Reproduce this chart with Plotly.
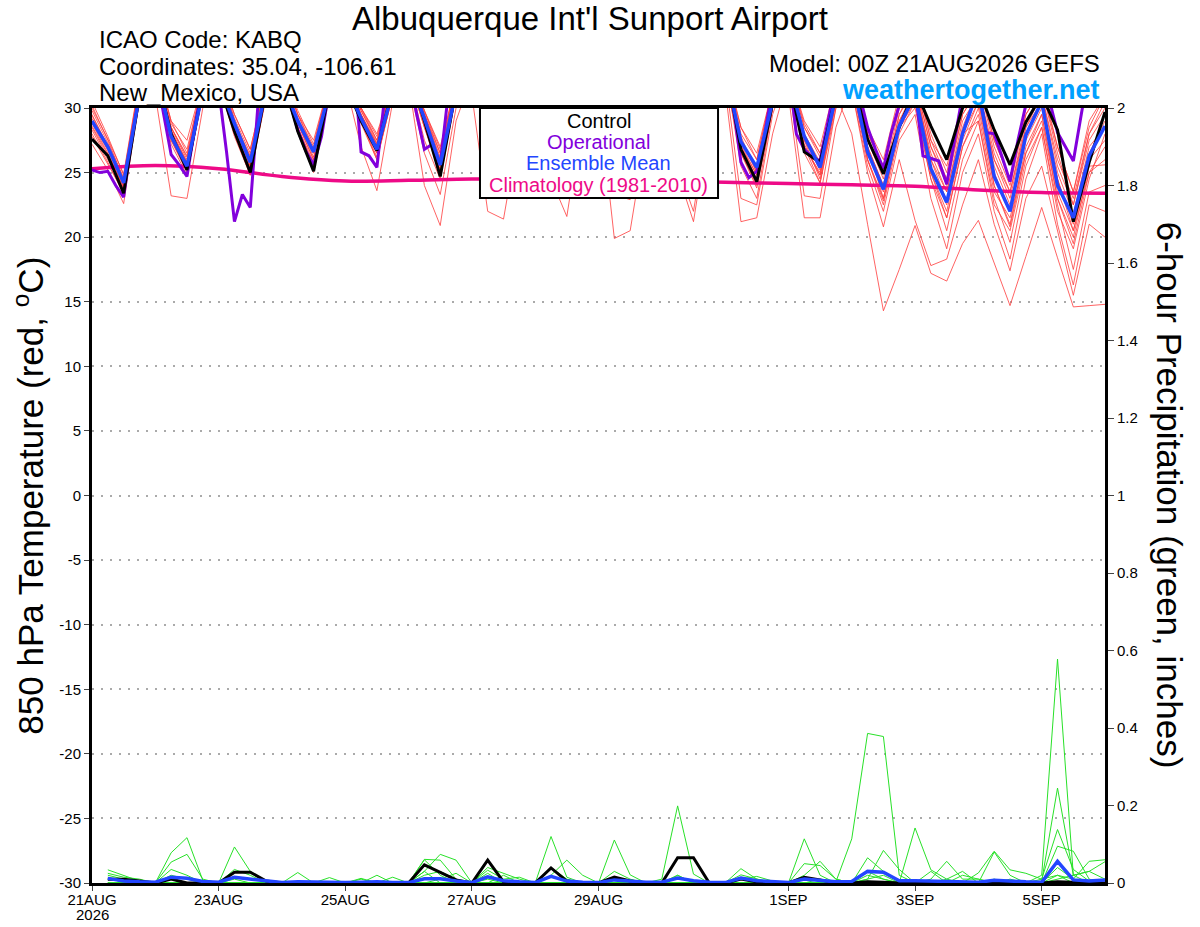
import pandas as pd
import plotly.graph_objects as go

# GEFS 850 hPa temperature + 6h precip, KABQ, run 00Z 21AUG2026
start = pd.Timestamp("2026-08-21 00:00")

hours_6 = list(range(0, 385, 6))      # members, control, mean (temperature)
hours_3 = list(range(0, 385, 3))      # operational run
hours_24 = list(range(0, 385, 24))    # climatology
hours_pcp = list(range(6, 385, 6))    # 6-hour precip accumulations


def to_time(hours):
    return [start + pd.Timedelta(hours=h) for h in hours]


######################### - temperature (C), rows = 00Z, 06Z, 12Z, 18Z per day
control_t = [
    27.6, 26.3, 23.4, 31.0,  33.0, 28.0, 25.2, 31.5,  32.0, 28.2, 25.0, 31.5,  32.5, 28.2, 25.1, 31.5,
    32.0, 29.0, 26.7, 31.5,  33.0, 29.0, 24.7, 31.5,  33.0, 28.5, 25.5, 31.5,  32.5, 28.0, 25.0, 31.0,
    32.5, 28.0, 25.0, 31.0,  32.5, 28.5, 25.5, 31.0,  33.5, 26.8, 24.3, 30.4,  32.5, 26.6, 25.8, 31.0,
    32.5, 27.6, 24.9, 28.5,  31.5, 28.6, 26.0, 30.0,  31.5, 28.3, 25.6, 28.9,  31.0, 28.3, 21.2, 25.8,
    29.7]

mean_t = [
    29.0, 27.0, 24.2, 31.0,  33.0, 27.8, 25.5, 31.3,  32.0, 28.8, 25.8, 31.5,  32.0, 29.0, 26.6, 31.3,
    32.0, 29.2, 26.8, 31.3,  32.5, 29.2, 25.6, 31.3,  32.5, 29.0, 26.0, 31.0,  32.5, 29.0, 26.0, 31.0,
    32.5, 29.0, 26.0, 31.0,  32.5, 29.0, 26.2, 31.0,  33.0, 27.4, 25.4, 30.5,  32.5, 27.8, 25.4, 31.0,
    32.5, 26.6, 23.7, 28.6,  31.0, 25.3, 22.7, 28.0,  31.5, 24.7, 22.0, 27.9,  30.5, 24.0, 21.5, 26.3,
    28.6]

# operational, 3-hourly: rows = 00,03,06,09,12,15,18,21Z
oper_t = [
    25.2, 25.0, 25.1, 24.0, 23.1, 27.5, 31.0, 33.0,
    33.0, 29.8, 26.4, 25.6, 24.7, 28.5, 32.0, 33.0,
    31.5, 26.6, 21.2, 23.3, 22.3, 30.5, 34.0, 34.0,
    32.0, 30.5, 28.3, 26.7, 25.6, 27.8, 31.5, 33.0,
    33.0, 34.0, 26.6, 26.3, 25.4, 31.0, 33.0, 33.0,
    33.0, 29.6, 26.8, 27.2, 25.6, 31.0, 33.0, 33.0,
    33.0, 33.0, 31.0, 26.5, 25.5, 30.0, 33.0, 33.0,
    33.0, 31.0, 28.0, 26.5, 25.5, 28.0, 32.0, 33.0,
    33.0, 31.0, 28.0, 26.5, 25.5, 28.0, 32.0, 33.0,
    33.0, 31.0, 28.0, 26.5, 25.5, 28.0, 32.0, 33.0,
    33.0, 30.3, 25.8, 24.6, 25.1, 28.0, 31.5, 33.0,
    33.0, 28.0, 26.8, 26.2, 25.9, 29.0, 32.0, 33.0,
    33.0, 31.0, 28.5, 26.8, 25.3, 28.1, 30.2, 32.0,
    31.5, 26.3, 26.1, 25.9, 24.1, 27.7, 31.0, 33.0,
    31.5, 28.1, 28.0, 26.2, 24.3, 27.5, 30.3, 33.0,
    33.0, 30.5, 28.1, 27.0, 25.9, 29.5, 33.0, 33.0,
    33.0]

clim_t = [25.3, 25.55, 25.3, 24.7, 24.35, 24.4, 24.5, 24.5, 24.45,
          24.35, 24.25, 24.15, 24.05, 23.95, 23.65, 23.45, 23.4]

members_t = [
    [29.5, 27.0, 24.0, 31.0, 33.0, 28.2, 25.8, 31.5, 32.5, 28.5, 25.5, 31.5, 32.5, 29.0, 26.2, 31.5,
     32.0, 29.5, 27.0, 31.5, 33.0, 29.0, 25.5, 31.0, 32.5, 29.0, 26.0, 31.0, 32.5, 28.5, 25.5, 31.0,
     32.5, 28.5, 25.5, 30.5, 32.0, 25.0, 21.2, 29.0, 33.0, 27.8, 25.0, 31.0, 32.5, 28.0, 25.6, 31.0,
     33.0, 27.0, 24.0, 29.5, 32.0, 26.0, 23.5, 28.5, 31.5, 25.5, 22.5, 28.0, 30.5, 24.5, 21.0, 26.5, 29.0],
    [28.8, 26.5, 23.8, 31.5, 33.0, 27.5, 25.2, 31.0, 32.0, 28.0, 25.0, 31.0, 32.0, 28.5, 25.5, 31.0,
     32.5, 29.0, 26.5, 31.5, 33.0, 29.5, 26.0, 31.5, 31.0, 22.0, 21.4, 28.5, 32.5, 29.0, 26.0, 31.0,
     32.5, 29.0, 26.5, 31.0, 32.5, 29.0, 26.5, 31.0, 32.5, 27.0, 24.5, 30.5, 32.0, 27.2, 24.8, 30.5,
     32.0, 26.0, 22.8, 28.5, 31.0, 25.0, 22.0, 27.5, 30.5, 24.0, 21.0, 27.0, 29.5, 23.5, 20.5, 25.0, 27.0],
    [28.0, 25.8, 23.3, 30.5, 31.0, 23.2, 23.0, 30.0, 32.0, 28.2, 25.3, 31.0, 32.5, 28.8, 26.0, 31.5,
     32.5, 29.5, 27.2, 31.5, 33.0, 29.0, 25.0, 31.0, 32.5, 28.5, 25.5, 31.0, 32.5, 28.5, 25.5, 31.0,
     32.5, 28.5, 25.5, 31.0, 32.5, 28.5, 25.5, 31.0, 33.0, 27.5, 25.5, 31.0, 32.5, 27.0, 25.0, 31.0,
     28.0, 21.0, 14.3, 17.5, 20.9, 17.2, 16.6, 19.5, 21.3, 18.0, 14.7, 18.5, 22.3, 18.4, 14.6, 14.7, 14.8],
    [30.2, 27.5, 24.5, 31.5, 33.0, 28.5, 26.2, 32.0, 33.0, 29.0, 26.0, 31.5, 32.5, 29.2, 26.8, 31.5,
     32.5, 29.8, 27.5, 32.0, 33.0, 29.5, 26.5, 31.5, 33.0, 29.5, 26.5, 31.5, 32.0, 24.5, 21.6, 29.5,
     32.5, 29.0, 26.0, 31.0, 32.5, 29.0, 26.0, 31.0, 33.5, 28.0, 26.0, 31.5, 33.0, 28.5, 26.2, 31.5,
     33.0, 28.0, 25.5, 30.5, 32.5, 27.5, 24.5, 30.0, 32.0, 27.0, 24.0, 29.5, 31.5, 26.5, 22.5, 28.0, 30.5],
    [27.2, 25.2, 22.6, 30.8, 32.5, 28.0, 25.5, 31.5, 32.5, 28.5, 25.5, 31.5, 32.5, 28.5, 25.8, 31.0,
     32.0, 29.0, 26.0, 31.0, 32.5, 28.5, 25.2, 31.0, 32.5, 28.5, 25.5, 31.0, 32.5, 28.5, 25.5, 31.0,
     32.5, 28.5, 25.5, 31.0, 32.5, 28.0, 25.0, 31.0, 32.5, 26.5, 24.0, 30.0, 32.0, 23.2, 23.0, 30.0,
     32.0, 27.0, 23.0, 28.5, 30.5, 24.5, 21.5, 27.0, 30.0, 24.0, 20.8, 26.5, 29.5, 23.0, 19.5, 25.0, 26.0],
    [29.0, 26.8, 24.3, 32.0, 33.5, 28.8, 26.8, 32.0, 33.0, 29.2, 26.5, 32.0, 33.0, 29.5, 27.0, 32.0,
     33.0, 30.0, 27.8, 32.0, 33.0, 29.8, 26.8, 32.0, 33.0, 29.5, 26.5, 32.0, 33.0, 29.0, 26.5, 31.5,
     31.0, 19.9, 20.5, 28.0, 32.5, 29.0, 26.0, 31.0, 33.5, 28.5, 26.5, 31.5, 33.0, 29.0, 27.0, 32.0,
     33.0, 28.5, 26.0, 31.0, 32.5, 28.0, 25.0, 30.5, 32.5, 27.5, 24.5, 30.0, 32.0, 27.0, 23.5, 28.5, 31.0],
    [28.5, 26.2, 23.6, 31.0, 33.0, 27.8, 25.5, 31.5, 32.5, 28.5, 25.8, 31.5, 32.5, 29.0, 26.5, 31.5,
     32.0, 27.0, 23.6, 30.5, 33.0, 29.0, 25.8, 31.5, 32.5, 29.0, 26.0, 31.0, 32.5, 29.0, 26.0, 31.0,
     32.5, 29.0, 26.0, 31.0, 32.5, 29.0, 26.0, 31.0, 33.0, 27.5, 25.2, 31.0, 32.5, 27.5, 25.2, 31.0,
     32.5, 26.5, 23.5, 29.0, 31.5, 26.0, 22.8, 28.0, 29.0, 22.5, 20.5, 26.0, 28.5, 22.0, 19.1, 24.5, 28.0],
    [30.5, 27.8, 24.8, 32.0, 33.5, 29.0, 26.5, 32.0, 33.0, 29.5, 26.8, 32.0, 33.0, 29.8, 27.2, 32.0,
     33.0, 30.0, 27.5, 32.0, 33.0, 29.8, 26.5, 32.0, 33.0, 29.5, 26.8, 32.0, 33.0, 29.5, 26.5, 32.0,
     33.0, 29.5, 26.5, 31.5, 32.5, 25.5, 22.0, 29.5, 33.0, 28.5, 26.0, 31.5, 33.0, 28.8, 26.5, 31.5,
     32.5, 27.5, 24.5, 30.0, 32.0, 27.0, 24.0, 29.5, 31.5, 26.0, 23.5, 28.5, 31.0, 25.5, 22.5, 27.5, 29.5],
    [29.2, 26.9, 24.1, 31.2, 33.0, 28.3, 25.8, 31.5, 32.5, 28.8, 26.0, 31.5, 32.5, 29.0, 26.5, 31.5,
     32.5, 29.5, 27.0, 31.5, 32.0, 24.0, 20.9, 29.0, 32.5, 28.5, 25.5, 31.0, 32.5, 28.5, 25.8, 31.0,
     32.5, 28.5, 25.8, 31.0, 32.5, 28.5, 25.8, 31.0, 33.0, 27.0, 24.8, 30.5, 32.5, 27.5, 24.5, 30.5,
     31.5, 25.0, 20.8, 26.0, 21.3, 17.8, 18.3, 22.5, 26.0, 21.0, 17.4, 23.0, 25.5, 20.5, 15.5, 21.0, 20.0],
    [28.3, 26.0, 23.9, 30.6, 32.5, 27.5, 25.0, 31.0, 32.0, 28.0, 24.8, 31.0, 32.0, 28.5, 25.2, 31.0,
     32.0, 29.0, 26.2, 31.0, 32.5, 28.5, 24.8, 31.0, 32.5, 28.5, 25.5, 31.0, 32.5, 28.5, 25.5, 31.0,
     31.5, 23.3, 22.9, 29.5, 32.5, 28.5, 25.5, 31.0, 32.5, 27.0, 24.5, 30.5, 32.5, 27.0, 24.8, 30.5,
     32.0, 26.0, 22.5, 28.0, 30.5, 25.0, 21.5, 27.0, 29.5, 23.5, 21.5, 26.5, 29.0, 23.0, 20.0, 25.5, 25.6],
    [29.8, 27.3, 24.6, 31.8, 33.0, 28.5, 26.0, 31.8, 33.0, 29.0, 26.2, 31.8, 33.0, 29.5, 26.8, 31.8,
     33.0, 29.8, 27.3, 31.8, 33.0, 29.5, 26.2, 31.8, 33.0, 29.2, 26.2, 31.5, 33.0, 29.2, 26.2, 31.5,
     33.0, 29.2, 26.2, 31.5, 32.5, 29.0, 26.0, 31.0, 31.5, 21.2, 21.5, 28.0, 32.5, 27.8, 25.5, 31.0,
     32.5, 27.0, 24.0, 29.5, 31.5, 26.5, 23.5, 29.0, 31.0, 26.0, 23.0, 28.5, 30.5, 25.0, 21.8, 27.0, 28.5],
    [27.8, 25.6, 23.5, 31.0, 32.5, 27.2, 24.8, 31.0, 32.0, 27.8, 24.8, 30.8, 32.0, 28.2, 25.0, 30.8,
     32.0, 28.8, 26.0, 31.0, 32.0, 26.5, 23.3, 30.0, 32.5, 28.5, 25.2, 31.0, 32.5, 28.2, 25.0, 31.0,
     32.5, 28.2, 25.0, 31.0, 32.5, 28.2, 25.0, 31.0, 32.5, 26.5, 23.8, 30.0, 32.0, 26.5, 24.2, 30.0,
     31.5, 25.5, 22.0, 27.5, 29.5, 23.0, 19.1, 25.0, 28.0, 22.0, 18.3, 24.5, 28.0, 21.0, 16.3, 22.5, 22.0],
    [29.4, 27.1, 24.4, 31.4, 33.0, 28.5, 26.3, 31.5, 32.5, 28.8, 26.3, 31.5, 32.5, 29.0, 26.8, 31.5,
     32.5, 29.5, 27.2, 31.5, 33.0, 29.2, 25.5, 31.5, 32.5, 29.0, 26.0, 31.0, 32.5, 29.0, 26.0, 31.0,
     32.5, 29.0, 26.0, 31.0, 32.5, 29.0, 26.0, 31.0, 33.0, 25.5, 23.0, 30.0, 32.5, 28.0, 25.8, 31.0,
     33.0, 27.5, 25.0, 30.5, 32.0, 27.0, 24.5, 29.5, 31.5, 26.5, 23.5, 29.0, 31.0, 26.0, 23.0, 28.0, 30.0],
    [28.6, 26.4, 24.0, 30.9, 33.0, 28.0, 25.8, 31.5, 32.5, 28.3, 25.5, 31.5, 32.5, 28.8, 26.0, 31.5,
     32.5, 29.2, 26.5, 31.5, 32.5, 27.5, 24.5, 31.0, 32.5, 28.5, 25.5, 31.0, 32.5, 28.5, 25.5, 31.0,
     32.5, 28.5, 25.5, 31.0, 32.5, 28.5, 25.5, 31.0, 33.0, 27.2, 24.8, 30.5, 32.5, 27.0, 24.2, 30.5,
     32.0, 26.0, 23.0, 28.5, 30.0, 24.5, 20.5, 26.0, 29.0, 23.0, 19.6, 25.5, 28.5, 22.5, 17.5, 23.5, 24.0],
    [30.0, 27.6, 24.9, 32.2, 33.5, 29.0, 27.5, 32.0, 33.0, 29.5, 26.8, 32.0, 33.0, 29.5, 27.5, 32.0,
     33.0, 30.0, 28.0, 32.0, 33.0, 29.8, 27.0, 32.0, 33.0, 29.5, 26.5, 31.5, 33.0, 29.5, 26.5, 31.5,
     33.0, 29.5, 26.5, 31.5, 33.0, 29.5, 26.5, 31.5, 32.5, 23.0, 22.5, 29.5, 33.0, 28.5, 26.5, 31.5,
     33.0, 28.0, 25.5, 30.5, 32.5, 27.5, 25.5, 30.0, 32.0, 27.5, 24.5, 29.5, 31.5, 27.0, 23.5, 29.0, 31.0],
    [28.9, 26.7, 23.7, 31.1, 33.0, 28.0, 25.5, 31.5, 32.5, 28.5, 25.2, 31.5, 32.5, 28.5, 25.5, 31.5,
     32.5, 29.0, 26.8, 31.5, 32.5, 28.8, 25.2, 31.0, 32.5, 28.8, 25.8, 31.0, 32.5, 28.8, 25.8, 31.0,
     32.5, 28.8, 25.8, 31.0, 32.5, 28.8, 25.8, 31.0, 33.0, 27.5, 25.0, 30.5, 31.0, 21.5, 21.5, 28.5,
     32.0, 26.5, 23.8, 29.0, 31.0, 25.5, 22.5, 28.0, 30.5, 25.0, 22.0, 27.5, 30.0, 24.5, 20.5, 26.0, 27.5],
]

######################### - precip (inches), rows = 06Z, 12Z, 18Z, next 00Z per day
control_p = [
    0.01, 0.01, 0.005, 0,  0.01, 0, 0, 0,  0.028, 0.028, 0.005, 0,  0, 0, 0, 0,
    0, 0, 0, 0,  0.047, 0.028, 0.008, 0,  0.059, 0.003, 0, 0,  0.039, 0.005, 0, 0,
    0.015, 0.005, 0, 0,  0.065, 0.065, 0, 0,  0.01, 0.003, 0, 0,  0.015, 0.008, 0, 0,
    0.003, 0.002, 0, 0,  0.002, 0.001, 0, 0,  0.001, 0, 0, 0,  0.003, 0.002, 0, 0]

mean_p = [
    0.012, 0.005, 0.003, 0.002,  0.015, 0.012, 0.004, 0.002,  0.015, 0.01, 0.004, 0.001,  0.003, 0.002, 0.001, 0.001,
    0.002, 0.003, 0.001, 0.001,  0.011, 0.011, 0.005, 0.001,  0.016, 0.006, 0.003, 0.001,  0.017, 0.005, 0.002, 0.001,
    0.008, 0.004, 0.002, 0.002,  0.013, 0.006, 0.002, 0.001,  0.013, 0.006, 0.003, 0.001,  0.01, 0.007, 0.003, 0.004,
    0.03, 0.028, 0.006, 0.006,  0.005, 0.004, 0.002, 0.002,  0.007, 0.004, 0.003, 0.002,  0.056, 0.008, 0.005, 0.008]

members_p = [
    [0.034, 0.02, 0.005, 0, 0.078, 0.117, 0.007, 0, 0.01, 0, 0, 0, 0, 0, 0, 0,
     0, 0, 0, 0, 0.061, 0.059, 0.01, 0, 0.01, 0, 0, 0, 0.02, 0.059, 0.02, 0,
     0, 0, 0, 0, 0.02, 0, 0, 0, 0.037, 0.01, 0, 0, 0, 0, 0, 0,
     0.065, 0.03, 0.005, 0, 0, 0, 0, 0, 0.01, 0, 0, 0.005, 0.245, 0.02, 0.03, 0.01],
    [0.025, 0.015, 0.01, 0, 0.054, 0.074, 0.01, 0, 0, 0, 0, 0, 0, 0, 0, 0,
     0.012, 0, 0, 0, 0.03, 0.074, 0.059, 0, 0, 0, 0, 0, 0.04, 0.01, 0, 0,
     0.01, 0, 0, 0, 0, 0, 0, 0, 0.015, 0.005, 0, 0, 0.05, 0.045, 0.01, 0,
     0.01, 0.02, 0, 0.142, 0.034, 0.01, 0, 0, 0, 0, 0, 0, 0.04, 0.01, 0, 0],
    [0.02, 0.01, 0, 0, 0.035, 0.02, 0, 0, 0, 0, 0, 0, 0, 0, 0, 0,
     0, 0.02, 0, 0, 0, 0, 0, 0, 0.04, 0.024, 0.01, 0, 0, 0, 0, 0,
     0.03, 0.01, 0, 0, 0, 0, 0, 0, 0.021, 0.01, 0, 0, 0, 0, 0, 0,
     0.03, 0.01, 0, 0, 0.01, 0.056, 0.01, 0.01, 0, 0, 0, 0, 0.02, 0.01, 0.056, 0.06],
    [0.01, 0.005, 0, 0, 0.02, 0.01, 0, 0, 0.093, 0.03, 0.005, 0, 0, 0, 0, 0,
     0, 0, 0, 0, 0.02, 0.03, 0.01, 0, 0.033, 0.01, 0.015, 0, 0, 0, 0, 0,
     0, 0, 0, 0, 0, 0, 0, 0, 0.01, 0.017, 0.005, 0, 0, 0, 0, 0,
     0.01, 0.084, 0.035, 0, 0, 0, 0, 0, 0, 0.01, 0, 0, 0.01, 0.02, 0.03, 0.055],
    [0, 0, 0, 0, 0, 0, 0, 0, 0.035, 0.02, 0, 0, 0, 0, 0, 0,
     0, 0, 0, 0, 0.06, 0.02, 0, 0, 0, 0.02, 0, 0, 0, 0, 0, 0,
     0, 0, 0, 0.01, 0.199, 0.023, 0, 0, 0, 0, 0, 0, 0, 0.01, 0, 0,
     0, 0, 0, 0, 0.03, 0, 0, 0, 0, 0, 0, 0.01, 0.138, 0.035, 0.005, 0],
    [0, 0, 0, 0, 0, 0, 0, 0, 0, 0, 0, 0, 0.027, 0, 0, 0,
     0, 0, 0, 0, 0, 0.01, 0.025, 0, 0, 0, 0, 0, 0.12, 0.015, 0, 0,
     0, 0, 0, 0, 0, 0, 0, 0, 0, 0, 0, 0, 0.114, 0.02, 0, 0,
     0.005, 0, 0, 0, 0, 0, 0.02, 0.01, 0, 0, 0, 0, 0.095, 0.082, 0.01, 0],
    [0.015, 0, 0, 0, 0, 0, 0, 0, 0, 0, 0, 0, 0, 0, 0.014, 0,
     0, 0, 0, 0, 0, 0, 0, 0, 0.025, 0, 0, 0, 0, 0, 0, 0,
     0, 0, 0, 0, 0, 0, 0, 0, 0, 0, 0, 0, 0.02, 0.056, 0.01, 0,
     0, 0, 0, 0, 0, 0, 0, 0.026, 0.082, 0.034, 0.025, 0.01, 0.02, 0, 0, 0.01],
    [0, 0, 0, 0, 0, 0, 0, 0, 0, 0, 0, 0, 0, 0, 0, 0,
     0, 0, 0, 0, 0.03, 0, 0, 0, 0, 0, 0, 0, 0, 0, 0, 0,
     0.111, 0.021, 0, 0, 0, 0, 0, 0, 0, 0, 0, 0, 0, 0, 0, 0,
     0.02, 0.01, 0, 0, 0, 0, 0, 0, 0, 0, 0, 0.02, 0.578, 0.02, 0, 0],
    [0, 0, 0, 0, 0, 0, 0, 0, 0, 0, 0, 0, 0, 0, 0, 0,
     0, 0, 0, 0, 0, 0, 0, 0, 0, 0, 0, 0, 0, 0, 0, 0,
     0, 0, 0, 0, 0, 0, 0, 0, 0, 0, 0, 0, 0, 0, 0.003, 0.114,
     0.386, 0.378, 0.02, 0, 0, 0, 0, 0, 0, 0, 0, 0, 0, 0, 0, 0],
    [0, 0, 0, 0, 0, 0, 0, 0, 0, 0, 0, 0, 0, 0, 0, 0,
     0.01, 0, 0.015, 0, 0, 0, 0, 0, 0, 0, 0, 0, 0, 0, 0, 0,
     0, 0, 0, 0, 0.02, 0, 0, 0, 0, 0, 0, 0, 0, 0, 0, 0,
     0, 0, 0, 0, 0, 0.01, 0.03, 0, 0.08, 0.02, 0, 0, 0, 0, 0, 0],
]

# axis ticks
temp_ticks = [30, 25, 20, 15, 10, 5, 0, -5, -10, -15, -20, -25, -30]
pcp_ticks = [0, 0.2, 0.4, 0.6, 0.8, 1, 1.2, 1.4, 1.6, 1.8, 2]
pcp_tick_text = ["0", "0.2", "0.4", "0.6", "0.8", "1", "1.2", "1.4", "1.6", "1.8", "2"]
date_ticks = ["2026-08-21", "2026-08-23", "2026-08-25", "2026-08-27", "2026-08-29",
              "2026-09-01", "2026-09-03", "2026-09-05"]
date_tick_text = ["21AUG", "23AUG", "25AUG", "27AUG", "29AUG", "1SEP", "3SEP", "5SEP"]

RED = "rgba(255,60,60,0.8)"
GREEN = "rgb(40,225,40)"
BLUE = "rgb(35,70,255)"
PURPLE = "rgb(130,0,220)"
PINK = "rgb(238,10,135)"
FONT = "Liberation Sans, Arial, sans-serif"

t6 = to_time(hours_6)
tp = to_time(hours_pcp)

fig = go.Figure()

for m in members_t:
    fig.add_trace(go.Scatter(x=t6, y=m, mode="lines", line=dict(color=RED, width=1)))
for m in members_p:
    fig.add_trace(go.Scatter(x=tp, y=m, mode="lines", line=dict(color=GREEN, width=1), yaxis="y2"))

fig.add_trace(go.Scatter(x=tp, y=control_p, mode="lines", line=dict(color="black", width=3), yaxis="y2"))
fig.add_trace(go.Scatter(x=tp, y=mean_p, mode="lines", line=dict(color=BLUE, width=3.5), yaxis="y2"))

fig.add_trace(go.Scatter(x=to_time(hours_24), y=clim_t, mode="lines",
                         line=dict(color=PINK, width=3.5, shape="spline")))
fig.add_trace(go.Scatter(x=to_time(hours_3), y=oper_t, mode="lines", line=dict(color=PURPLE, width=3)))
fig.add_trace(go.Scatter(x=t6, y=control_t, mode="lines", line=dict(color="black", width=3)))
fig.add_trace(go.Scatter(x=t6, y=mean_t, mode="lines", line=dict(color=BLUE, width=3.5)))


def note(text, x, y, size, color="black", xanchor="center", angle=0):
    fig.add_annotation(text=text, xref="paper", yref="paper", x=x, y=y,
                       xanchor=xanchor, yanchor="middle", textangle=angle, showarrow=False,
                       font=dict(size=size, color=color, family=FONT))


# legend box (text only, like the original)
fig.add_shape(type="rect", xref="paper", yref="paper", x0=0.383, x1=0.618, y0=0.884, y1=1.0,
              line=dict(color="black", width=2), fillcolor="white", layer="above")
legend_items = [("Control", "black"), ("Operational", PURPLE),
                ("Ensemble Mean", BLUE), ("Climatology (1981-2010)", PINK)]
legend_y = [0.983, 0.956, 0.929, 0.901]
for (txt, col), ly in zip(legend_items, legend_y):
    note(txt, 0.5, ly, 20, col)

# header text
note("Albuquerque Int'l Sunport Airport", 0.492, 1.116, 33)
for txt, hy in zip(["ICAO Code: KABQ", "Coordinates: 35.04, -106.61", "New_Mexico, USA"],
                   [1.088, 1.053, 1.020]):
    note(txt, 0.005, hy, 24, xanchor="left")
note("Model: 00Z 21AUG2026 GEFS", 0.997, 1.057, 24, xanchor="right")
note("<b>weathertogether.net</b>", 0.997, 1.023, 27, "rgb(0,160,255)", xanchor="right")
note("2026", 0.0, -0.041, 15)

# axis titles
note("850 hPa Temperature (red, <sup>o</sup>C)", -0.063, 0.5, 35, angle=-90)
note("6-hour Precipitation (green, inches)", 1.064, 0.5, 35, angle=90)

fig.update_layout(
    width=1200, height=927,
    margin=dict(l=92, r=95, t=108, b=44, autoexpand=False),
    paper_bgcolor="white", plot_bgcolor="white",
    showlegend=False,
    font=dict(family=FONT, size=15, color="black"),
    xaxis=dict(
        range=[start, start + pd.Timedelta(hours=384)],
        tickvals=date_ticks, ticktext=date_tick_text,
        ticks="outside", ticklen=5, tickwidth=1, automargin=False,
        ticklabelstandoff=-4,
        showline=True, linecolor="black", linewidth=3, mirror=True,
        showgrid=False, zeroline=False,
    ),
    yaxis=dict(
        range=[-30, 30], tickvals=temp_ticks, ticktext=[str(v) for v in temp_ticks],
        ticks="outside", ticklen=5, tickwidth=1, automargin=False,
        showline=True, linecolor="black", linewidth=3,
        showgrid=True, gridcolor="#aaaaaa", griddash="2px,7px", gridwidth=2,
        zeroline=False,
    ),
    yaxis2=dict(
        range=[0, 2], overlaying="y", side="right",
        tickvals=pcp_ticks, ticktext=pcp_tick_text,
        ticks="outside", ticklen=6, tickwidth=1, automargin=False,
        showline=True, linecolor="black", linewidth=3,
        showgrid=False, zeroline=False,
    ),
)

fig.write_html("out.html", config={"displayModeBar": False},
               post_script="document.body.style.margin = '0';")
